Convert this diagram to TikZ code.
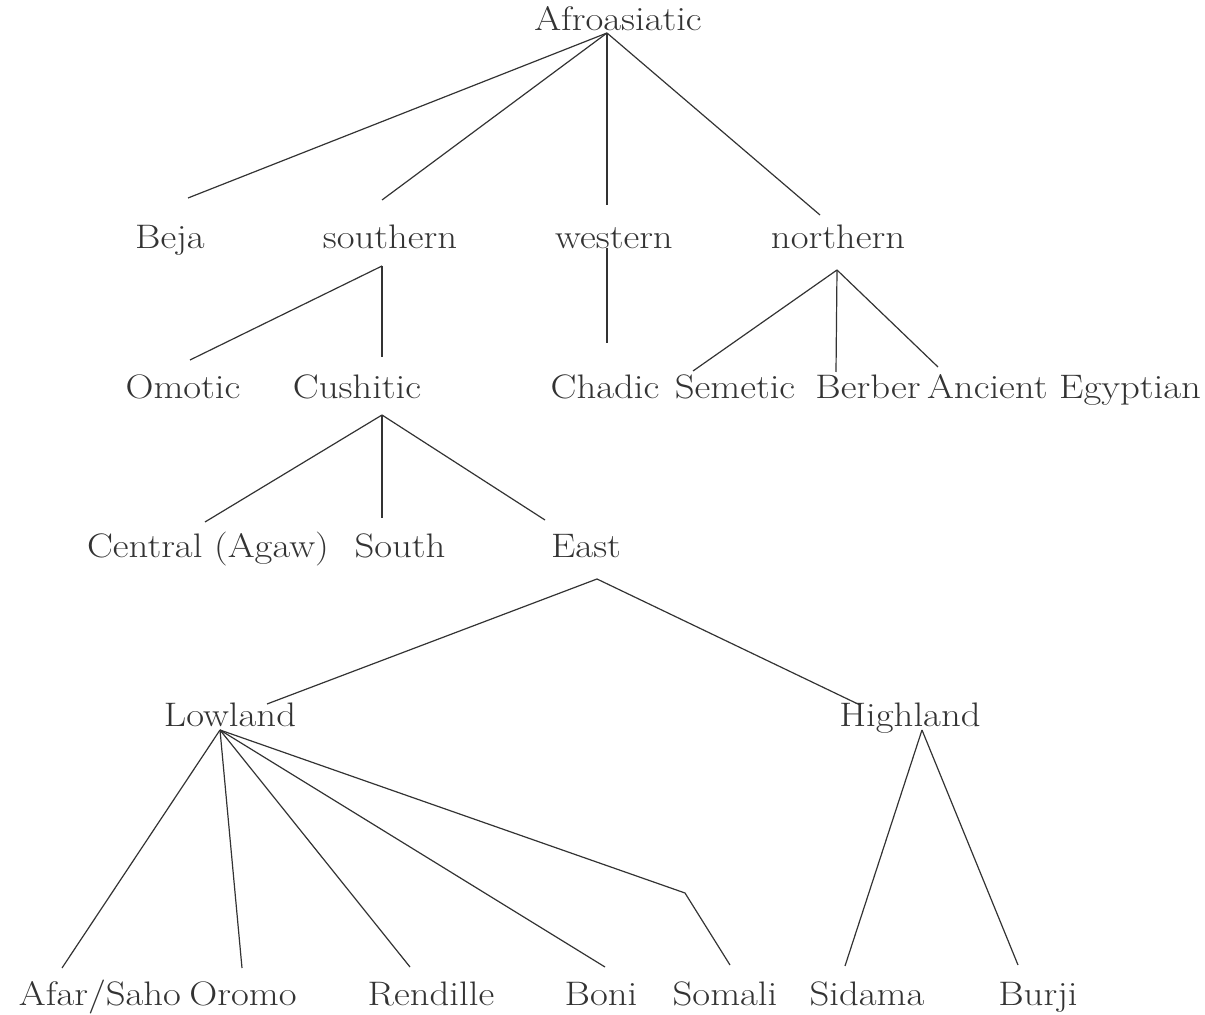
\documentclass[tikz,border=0pt]{standalone}
\usepackage{graphicx}
\newcommand{\wlbl}[1]{\scalebox{1.14}[1]{#1}}
\begin{document}
\begin{tikzpicture}[x=0.5pt,y=-0.5pt,
  lbl/.style={inner sep=0pt,anchor=base,font=\fontsize{17}{20}\selectfont,text=black!80},
  edge/.style={line width=0.6pt,draw=black!80}]
\useasboundingbox (0,0) rectangle (1205,1015);
% labels (base positions)
\node[lbl] (afro) at (618,31) {\wlbl{Afroasiatic}};
\node[lbl] (beja) at (170,249) {\wlbl{Beja}};
\node[lbl] (south) at (390,249) {\wlbl{southern}};
\node[lbl] (west) at (614,249) {\wlbl{western}};
\node[lbl] (north) at (838,249) {\wlbl{northern}};
\node[lbl] (omotic) at (183,399) {\wlbl{Omotic}};
\node[lbl] (cush) at (357,399) {\wlbl{Cushitic}};
\node[lbl] (chadic) at (605,399) {\wlbl{Chadic}};
\node[lbl] (semetic) at (735,399) {\wlbl{Semetic}};
\node[lbl] (berber) at (868,399) {\wlbl{Berber}};
\node[lbl] (egypt) at (1064,399) {\wlbl{Ancient Egyptian}};
\node[lbl] (central) at (208,558) {\wlbl{Central (Agaw)}};
\node[lbl] (southc) at (400,558) {\wlbl{South}};
\node[lbl] (east) at (586,558) {\wlbl{East}};
\node[lbl] (low) at (230,726) {\wlbl{Lowland}};
\node[lbl] (high) at (910,726) {\wlbl{Highland}};
\node[lbl] (afar) at (100,1005) {\wlbl{Afar/Saho}};
\node[lbl] (oromo) at (243,1005) {\wlbl{Oromo}};
\node[lbl] (rend) at (431,1005) {\wlbl{Rendille}};
\node[lbl] (boni) at (601,1005) {\wlbl{Boni}};
\node[lbl] (somali) at (725,1005) {\wlbl{Somali}};
\node[lbl] (sidama) at (867,1005) {\wlbl{Sidama}};
\node[lbl] (burji) at (1038,1005) {\wlbl{Burji}};
% junction and end coordinates
\coordinate (jA) at (607,33);
\coordinate (eBeja) at (188,198);
\coordinate (eSouth) at (382,200);
\coordinate (eWest) at (607,205);
\coordinate (eNorth) at (820,215);
\coordinate (jS) at (382,266);
\coordinate (eOmotic) at (190,360);
\coordinate (eCush) at (382,357);
\coordinate (jW) at (607,248);
\coordinate (eChadic) at (607,343);
\coordinate (jN) at (837,270);
\coordinate (eSem) at (693,371);
\coordinate (eBer) at (836,372);
\coordinate (eEgy) at (938,367);
\coordinate (jC) at (382,415);
\coordinate (eCen) at (205,522);
\coordinate (eSou) at (382,518);
\coordinate (eEast) at (545,520);
\coordinate (jE) at (597,579);
\coordinate (eLow) at (267,704);
\coordinate (eHigh) at (860,705);
\coordinate (jL) at (220,730);
\coordinate (eAfar) at (62,968);
\coordinate (eOromo) at (242,968);
\coordinate (eRend) at (410,967);
\coordinate (eBoni) at (605,967);
\coordinate (kSom) at (685,893);
\coordinate (eSom) at (730,965);
\coordinate (jH) at (922,730);
\coordinate (eSid) at (845,966);
\coordinate (eBur) at (1018,965);
% connectors
\draw[edge] (jA) -- (eBeja);
\draw[edge] (jA) -- (eSouth);
\draw[edge] (jA) -- (eWest);
\draw[edge] (jA) -- (eNorth);
\draw[edge] (jS) -- (eOmotic);
\draw[edge] (jS) -- (eCush);
\draw[edge] (jW) -- (eChadic);
\draw[edge] (jN) -- (eSem);
\draw[edge] (jN) -- (eBer);
\draw[edge] (jN) -- (eEgy);
\draw[edge] (jC) -- (eCen);
\draw[edge] (jC) -- (eSou);
\draw[edge] (jC) -- (eEast);
\draw[edge] (jE) -- (eLow);
\draw[edge] (jE) -- (eHigh);
\draw[edge] (jL) -- (eAfar);
\draw[edge] (jL) -- (eOromo);
\draw[edge] (jL) -- (eRend);
\draw[edge] (jL) -- (eBoni);
\draw[edge] (jL) -- (kSom) -- (eSom);
\draw[edge] (jH) -- (eSid);
\draw[edge] (jH) -- (eBur);
\end{tikzpicture}
\end{document}
